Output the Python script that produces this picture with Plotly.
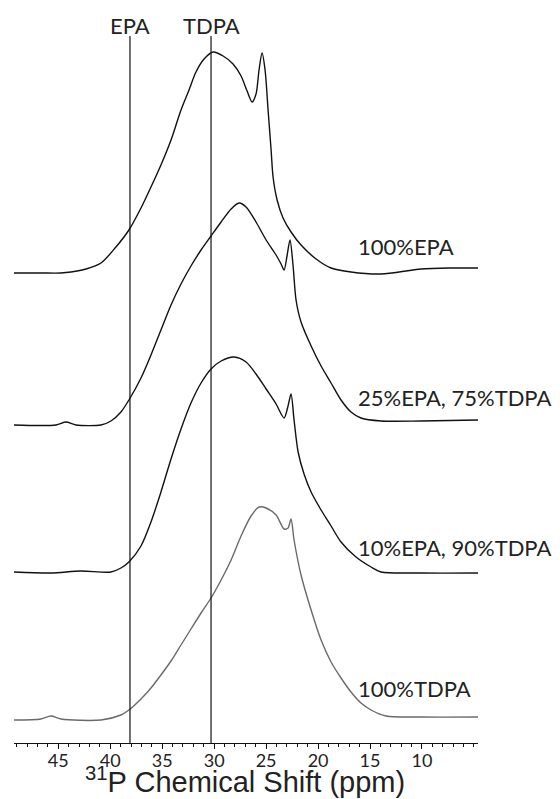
import plotly.graph_objects as go

# ---------------- data ----------------
epa_ppm = [49.26, 46.67, 44.74, 43.78, 42.33, 40.89, 39.45, 38.20, 37.04, 36.08, 35.12, 34.15,
           33.19, 32.42, 31.75, 30.97, 30.11, 29.14, 28.18, 27.41, 26.83, 26.35, 25.97, 25.68,
           25.39, 25.10, 24.81, 24.52, 24.33, 23.94, 23.37, 22.60, 21.64, 20.19, 18.75, 16.83,
           13.94, 10.10, 7.21, 4.61]
epa_int = [470, 470, 470, 471, 474, 480, 496, 513, 535, 556, 578, 603,
           633, 653, 671, 684, 691, 687, 679, 667, 652, 641, 649, 673,
           690, 673, 633, 593, 566, 543, 525, 511, 498, 484, 475, 471,
           469, 474, 475, 475]

mix25_ppm = [49.26, 45.22, 44.26, 43.30, 40.89, 39.93, 38.97, 38.20, 37.04, 36.08, 35.12, 34.15,
             33.19, 32.23, 31.26, 30.30, 29.33, 28.37, 27.60, 26.93, 25.97, 25.00, 24.04, 23.56,
             23.27, 22.99, 22.70, 22.41, 22.12, 21.64, 20.67, 19.71, 18.75, 17.79, 16.83, 15.87,
             13.94, 10.10, 4.61]
mix25_int = [318, 318, 321, 318, 318, 322, 331, 343, 365, 388, 413, 438,
             459, 477, 493, 507, 521, 534, 540, 536, 521, 503, 488, 479,
             473, 487, 503, 478, 443, 421, 397, 377, 360, 343, 331, 325,
             322, 322, 323]

mix10_ppm = [49.26, 45.70, 42.82, 39.93, 38.97, 38.20, 37.04, 36.08, 35.12, 34.15, 33.19, 32.23,
             31.26, 30.30, 29.33, 28.08, 26.93, 25.97, 25.00, 24.04, 23.27, 22.89, 22.60, 22.31,
             21.92, 21.35, 20.67, 19.71, 18.75, 17.79, 16.35, 14.90, 13.94, 10.10, 4.61]
mix10_int = [171, 170, 172, 171, 175, 181, 197, 221, 251, 284, 314, 340,
             360, 374, 382, 386, 381, 369, 354, 339, 325, 337, 349, 323,
             291, 269, 251, 233, 217, 201, 186, 176, 171, 170, 170]

tdpa_ppm = [49.26, 46.67, 45.70, 44.74, 40.89, 38.97, 38.20, 37.04, 36.08, 35.12, 34.15, 33.19,
            32.23, 31.26, 30.30, 29.33, 28.37, 27.41, 26.45, 25.68, 25.00, 24.04, 23.27, 22.89,
            22.60, 22.31, 21.64, 20.67, 19.71, 18.75, 17.79, 16.83, 15.87, 14.90, 13.46, 10.10, 4.61]
tdpa_int = [23, 24, 27, 24, 23, 28, 33, 44, 55, 68, 82, 98,
            114, 130, 145, 163, 183, 207, 227, 236, 235, 228, 214, 215,
            224, 203, 168, 133, 103, 81, 65, 51, 40, 33, 27, 26, 26]

ref_lines = {"EPA": 38.1, "TDPA": 30.3}
labels = ["100%EPA", "25%EPA, 75%TDPA", "10%EPA, 90%TDPA", "100%TDPA"]
label_y = [497, 346, 196, 55]
label_ppm = 16.35

# ---------------- figure ----------------
fig = go.Figure()
series = [(epa_ppm, epa_int, "#111111"), (mix25_ppm, mix25_int, "#111111"),
          (mix10_ppm, mix10_int, "#111111"), (tdpa_ppm, tdpa_int, "#6a6a6a")]
for xs, ys, col in series:
    fig.add_trace(go.Scatter(x=xs, y=ys, mode="lines",
                             line=dict(color=col, width=1.4, shape="spline", smoothing=0.8),
                             showlegend=False, hoverinfo="skip"))

for name, pos in ref_lines.items():
    fig.add_shape(type="line", x0=pos, x1=pos, y0=0, y1=707, xref="x", yref="y",
                  line=dict(color="#111111", width=1.2))
    fig.add_annotation(x=pos, y=718, text=name, showarrow=False, xanchor="center",
                       yanchor="middle", font=dict(family="Lato", size=22, color="#222222"))

for txt, yy in zip(labels, label_y):
    fig.add_annotation(x=label_ppm, y=yy, text=txt, showarrow=False, xanchor="left",
                       yanchor="middle", font=dict(family="Lato", size=22, color="#222222"))

# axis title placed below the tick labels
fig.add_annotation(x=0.498, y=-0.0754, xref="paper", yref="paper",
                   text="<sup>31</sup>P Chemical Shift (ppm)", showarrow=False,
                   xanchor="center", yanchor="bottom", borderpad=0,
                   font=dict(family="Liberation Sans", size=29, color="#222222"))

fig.update_layout(
    width=560, height=799,
    margin=dict(l=14, r=82, t=0, b=56),
    paper_bgcolor="white", plot_bgcolor="white",
    xaxis=dict(range=[49.26, 4.61], showgrid=False, zeroline=False,
               showline=True, linecolor="#111111", linewidth=1.2,
               ticks="outside", ticklen=5, tickcolor="#111111", tickwidth=1,
               tickvals=[45, 40, 35, 30, 25, 20, 15, 10], ticklabelstandoff=-4,
               tickfont=dict(family="Lato", size=18, color="#222222"),
               minor=dict(dtick=1, tick0=0, ticks="outside", ticklen=3, tickcolor="#111111")),
    yaxis=dict(range=[0, 743], visible=False),
)

fig.write_html("out.html")
